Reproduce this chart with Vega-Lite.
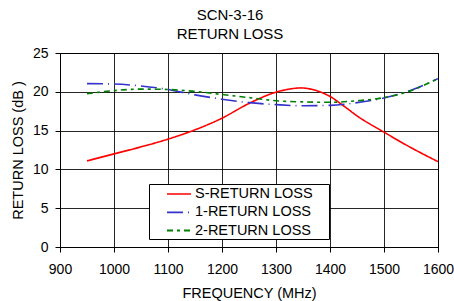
{
  "$schema": "https://vega.github.io/schema/vega-lite/v6.json",
  "width": 378,
  "height": 194,
  "autosize": {"type": "none"},
  "padding": {"left": 60, "top": 53, "right": 16, "bottom": 54},
  "background": "white",
  "title": {
    "text": ["SCN-3-16", "RETURN LOSS"],
    "fontSize": 15,
    "font": "Liberation Sans",
    "fontWeight": "normal",
    "color": "#000",
    "anchor": "middle",
    "dx": -19,
    "lineHeight": 19,
    "offset": 4
  },
  "config": {
    "font": "Liberation Sans",
    "view": {"stroke": "#000", "strokeWidth": 1},
    "axis": {
      "labelFont": "Liberation Sans",
      "titleFont": "Liberation Sans",
      "labelFontSize": 14,
      "titleFontSize": 14.5,
      "titleFontWeight": "normal",
      "labelColor": "#000",
      "titleColor": "#000",
      "domainColor": "#000",
      "tickColor": "#000",
      "gridColor": "#000",
      "gridOpacity": 0.85,
      "gridWidth": 1,
      "tickSize": 5
    }
  },
  "data": {
    "values": [
      {"series": "S-RETURN LOSS", "freq": 950, "rl": 11.1},
      {"series": "S-RETURN LOSS", "freq": 1000, "rl": 12.0},
      {"series": "S-RETURN LOSS", "freq": 1050, "rl": 12.9},
      {"series": "S-RETURN LOSS", "freq": 1100, "rl": 13.9},
      {"series": "S-RETURN LOSS", "freq": 1150, "rl": 15.1},
      {"series": "S-RETURN LOSS", "freq": 1200, "rl": 16.6},
      {"series": "S-RETURN LOSS", "freq": 1250, "rl": 18.5},
      {"series": "S-RETURN LOSS", "freq": 1300, "rl": 19.95},
      {"series": "S-RETURN LOSS", "freq": 1325, "rl": 20.35},
      {"series": "S-RETURN LOSS", "freq": 1345, "rl": 20.5},
      {"series": "S-RETURN LOSS", "freq": 1370, "rl": 20.25},
      {"series": "S-RETURN LOSS", "freq": 1400, "rl": 19.4},
      {"series": "S-RETURN LOSS", "freq": 1425, "rl": 18.2},
      {"series": "S-RETURN LOSS", "freq": 1450, "rl": 16.9},
      {"series": "S-RETURN LOSS", "freq": 1500, "rl": 14.8},
      {"series": "S-RETURN LOSS", "freq": 1550, "rl": 12.8},
      {"series": "S-RETURN LOSS", "freq": 1600, "rl": 11.0},
      {"series": "1-RETURN LOSS", "freq": 950, "rl": 21.05},
      {"series": "1-RETURN LOSS", "freq": 1000, "rl": 21.0},
      {"series": "1-RETURN LOSS", "freq": 1050, "rl": 20.75},
      {"series": "1-RETURN LOSS", "freq": 1100, "rl": 20.3},
      {"series": "1-RETURN LOSS", "freq": 1150, "rl": 19.6},
      {"series": "1-RETURN LOSS", "freq": 1200, "rl": 19.05},
      {"series": "1-RETURN LOSS", "freq": 1250, "rl": 18.6},
      {"series": "1-RETURN LOSS", "freq": 1300, "rl": 18.35},
      {"series": "1-RETURN LOSS", "freq": 1350, "rl": 18.2},
      {"series": "1-RETURN LOSS", "freq": 1400, "rl": 18.25},
      {"series": "1-RETURN LOSS", "freq": 1450, "rl": 18.6},
      {"series": "1-RETURN LOSS", "freq": 1500, "rl": 19.2},
      {"series": "1-RETURN LOSS", "freq": 1550, "rl": 20.2},
      {"series": "1-RETURN LOSS", "freq": 1600, "rl": 21.7},
      {"series": "2-RETURN LOSS", "freq": 950, "rl": 19.75},
      {"series": "2-RETURN LOSS", "freq": 1000, "rl": 20.15},
      {"series": "2-RETURN LOSS", "freq": 1050, "rl": 20.35},
      {"series": "2-RETURN LOSS", "freq": 1100, "rl": 20.3},
      {"series": "2-RETURN LOSS", "freq": 1150, "rl": 20.05},
      {"series": "2-RETURN LOSS", "freq": 1200, "rl": 19.65},
      {"series": "2-RETURN LOSS", "freq": 1250, "rl": 19.25},
      {"series": "2-RETURN LOSS", "freq": 1300, "rl": 18.85},
      {"series": "2-RETURN LOSS", "freq": 1350, "rl": 18.7},
      {"series": "2-RETURN LOSS", "freq": 1400, "rl": 18.65},
      {"series": "2-RETURN LOSS", "freq": 1450, "rl": 18.85},
      {"series": "2-RETURN LOSS", "freq": 1500, "rl": 19.25},
      {"series": "2-RETURN LOSS", "freq": 1550, "rl": 20.15},
      {"series": "2-RETURN LOSS", "freq": 1600, "rl": 21.7}
    ]
  },
  "mark": {"type": "line", "interpolate": "monotone", "strokeWidth": 1.6},
  "encoding": {
    "x": {
      "field": "freq",
      "type": "quantitative",
      "scale": {"domain": [900, 1600], "nice": false},
      "axis": {
        "values": [900, 1000, 1100, 1200, 1300, 1400, 1500, 1600],
        "format": "d",
        "title": "FREQUENCY (MHz)",
        "titlePadding": 10,
        "labelPadding": 10,
        "labelOverlap": false,
        "labelFlush": false
      }
    },
    "y": {
      "field": "rl",
      "type": "quantitative",
      "scale": {"domain": [0, 25], "nice": false},
      "axis": {
        "values": [0, 5, 10, 15, 20, 25],
        "title": "RETURN LOSS (dB )",
        "titlePadding": 7,
        "labelPadding": 7
      }
    },
    "color": {
      "field": "series",
      "type": "nominal",
      "scale": {
        "domain": ["S-RETURN LOSS", "1-RETURN LOSS", "2-RETURN LOSS"],
        "range": ["#ff0000", "#3333cc", "#008000"]
      },
      "legend": {
        "title": " ",
        "titleOrient": "right",
        "titlePadding": 15,
        "titleFontSize": 14,
        "orient": "none",
        "legendX": 89,
        "legendY": 131,
        "fillColor": "white",
        "strokeColor": "#000",
        "padding": 1,
        "symbolType": "M-1.5,0L1.5,0",
        "symbolSize": 256,
        "symbolStrokeWidth": 2,
        "symbolOffset": 20,
        "labelOffset": 7,
        "labelFontSize": 14.5,
        "labelFont": "Liberation Sans",
        "labelColor": "#000",
        "rowPadding": 2.3,
        "labelLimit": 300
      }
    },
    "strokeDash": {
      "field": "series",
      "type": "nominal",
      "scale": {
        "domain": ["S-RETURN LOSS", "1-RETURN LOSS", "2-RETURN LOSS"],
        "range": [[1, 0], [16, 5, 1, 5], [6, 4, 3, 4]]
      },
      "legend": null
    },
    "strokeWidth": {
      "field": "series",
      "type": "nominal",
      "scale": {
        "domain": ["S-RETURN LOSS", "1-RETURN LOSS", "2-RETURN LOSS"],
        "range": [1.5, 2, 2.5]
      },
      "legend": null
    }
  }
}
